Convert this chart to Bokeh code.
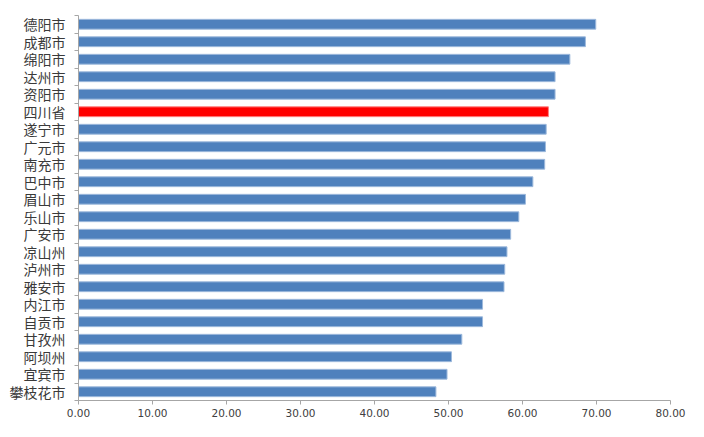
from bokeh.plotting import figure
from bokeh.models import Range1d, FixedTicker, ColumnDataSource
from bokeh.embed import file_html
from bokeh.resources import INLINE

regions = ["德阳市", "成都市", "绵阳市", "达州市", "资阳市", "四川省", "遂宁市", "广元市",
           "南充市", "巴中市", "眉山市", "乐山市", "广安市", "凉山州", "泸州市", "雅安市",
           "内江市", "自贡市", "甘孜州", "阿坝州", "宜宾市", "攀枝花市"]
values = [69.9, 68.5, 66.4, 64.4, 64.4, 63.5, 63.2, 63.1, 63.0, 61.4, 60.4,
          59.5, 58.4, 57.9, 57.6, 57.5, 54.6, 54.6, 51.8, 50.4, 49.8, 48.3]
highlight = "四川省"
x_ticks = [0, 10, 20, 30, 40, 50, 60, 70, 80]

n = len(regions)
ypos = [n - i - 0.5 for i in range(n)]
colors = ["#FF0000" if r == highlight else "#4F81BD" for r in regions]
lines = ["#FF7F7F" if r == highlight else "#9DB9DC" for r in regions]
src = ColumnDataSource(dict(y=ypos, v=values, c=colors, lc=lines, name=regions))

p = figure(width=688, height=421, output_backend="svg", toolbar_location=None,
           x_range=Range1d(0, 80), y_range=Range1d(0, n),
           min_border_left=78, min_border_right=18, min_border_top=15, min_border_bottom=21)
p.hbar(y="y", left=0, right="v", height=0.56, fill_color="c", line_color="lc",
       line_width=1, source=src)

p.xgrid.visible = False
p.ygrid.visible = False
p.outline_line_color = None

xa = p.xaxis[0]
xa.ticker = FixedTicker(ticks=x_ticks, minor_ticks=[])
xa.major_label_overrides = {t: f"{t:.2f}" for t in x_ticks}
xa.axis_line_color = "#A6A6A6"
xa.major_tick_line_color = "#A6A6A6"
xa.major_tick_in = 0
xa.major_tick_out = 4
xa.minor_tick_line_color = None
xa.major_label_text_font = "DejaVu Sans"
xa.major_label_text_font_size = "10.5px"
xa.major_label_text_color = "#404040"
xa.major_label_standoff = 4

ya = p.yaxis[0]
ya.ticker = FixedTicker(ticks=ypos, minor_ticks=list(range(n + 1)))
ya.major_label_overrides = {y: r for y, r in zip(ypos, regions)}
ya.axis_line_color = "#A6A6A6"
ya.major_tick_in = 0
ya.major_tick_out = 0
ya.minor_tick_in = 0
ya.minor_tick_out = 4
ya.minor_tick_line_color = "#A6A6A6"
ya.major_label_text_font = "Noto Sans CJK SC"
ya.major_label_text_font_size = "14px"
ya.major_label_text_font_style = "normal"
ya.major_label_text_color = "#3A3A3A"
ya.major_label_standoff = 9

open("out.html", "w").write(file_html(p, INLINE))
